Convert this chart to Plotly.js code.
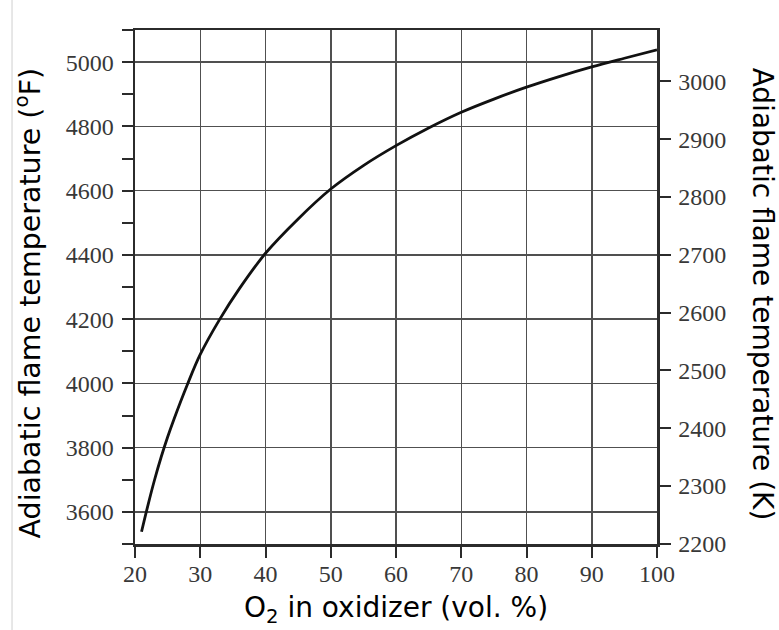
<!DOCTYPE html>
<html>
<head>
<meta charset="utf-8">
<script src="https://cdn.plot.ly/plotly-3.0.1.min.js"></script>
<style>html,body{margin:0;padding:0;background:#fff;}#chart{width:779px;height:630px;}</style>
</head>
<body>
<div id="chart"></div>
<script>
// O2 in oxidizer (vol. %)
const o2Percent = [21, 22, 23, 24, 25, 26, 28, 30, 33, 36, 40, 45, 50, 55, 60, 65, 70, 75, 80, 85, 90, 95, 100];
// Adiabatic flame temperature (°F)
const flameTempF = [3538, 3622, 3700, 3770, 3833, 3890, 3995, 4090, 4200, 4295, 4405, 4512, 4605, 4678, 4740, 4795, 4844, 4885, 4922, 4955, 4985, 5012, 5038];

const xTicks = [20, 30, 40, 50, 60, 70, 80, 90, 100];
const leftRange = [3500, 5100];
// Kelvin equivalent of the Fahrenheit axis limits
const rightRange = leftRange.map(f => (f - 32) / 1.8 + 273.15);

const tickFont = {family: '"Liberation Serif", serif', size: 24, color: '#383838'};
const titleFont = {family: '"DejaVu Sans", sans-serif', size: 28, color: '#000'};

const trace = {
  x: o2Percent, y: flameTempF, type: 'scatter', mode: 'lines',
  line: {color: '#111', width: 2.8, shape: 'spline', smoothing: 1},
  hoverinfo: 'skip', showlegend: false
};
const dummy = {x: [20], y: [2500], yaxis: 'y2', type: 'scatter', mode: 'markers',
  marker: {opacity: 0}, hoverinfo: 'skip', showlegend: false};

const layout = {
  width: 779, height: 630,
  margin: {l: 135, r: 122, t: 30, b: 86},
  paper_bgcolor: '#fff', plot_bgcolor: '#fff',
  xaxis: {
    range: [20, 100], tickvals: xTicks, ticks: 'outside', ticklen: 11, tickwidth: 2, tickcolor: '#2b2b2b',
    showline: true, linecolor: '#2b2b2b', linewidth: 2.5, mirror: true,
    showgrid: true, gridcolor: '#505050', gridwidth: 1.5, zeroline: false,
    tickfont: tickFont, ticklabelstandoff: -4
  },
  yaxis: {
    range: leftRange, dtick: 200, tick0: 0, ticks: 'outside', ticklen: 11, tickwidth: 2, tickcolor: '#2b2b2b',
    minor: {dtick: 100, tick0: 0, ticks: 'outside', ticklen: 11, tickwidth: 2, tickcolor: '#2b2b2b', showgrid: false},
    showline: true, linecolor: '#2b2b2b', linewidth: 2.5, mirror: true,
    showgrid: true, gridcolor: '#505050', gridwidth: 1.5, zeroline: false,
    tickfont: tickFont, ticklabelstandoff: 3
  },
  yaxis2: {
    overlaying: 'y', side: 'right', range: rightRange, dtick: 100, tick0: 0,
    ticks: 'outside', ticklen: 11, tickwidth: 2, tickcolor: '#2b2b2b',
    showline: true, linecolor: '#2b2b2b', linewidth: 2.5,
    showgrid: false, zeroline: false, tickfont: tickFont, ticklabelstandoff: 3
  },
  annotations: [
    {text: 'O<sub>2</sub> in oxidizer (vol. %)', xref: 'paper', yref: 'paper', x: 0.5, y: 0, yshift: -65,
     xanchor: 'center', yanchor: 'middle', showarrow: false, font: titleFont},
    {text: 'Adiabatic flame temperature (<sup>o</sup>F)', xref: 'paper', yref: 'paper', x: 0, xshift: -107, y: 0.468,
     xanchor: 'center', yanchor: 'middle', textangle: -90, showarrow: false,
     font: {family: titleFont.family, size: 28.5, color: '#000'}},
    {text: 'Adiabatic flame temperature (K)', xref: 'paper', yref: 'paper', x: 1, xshift: 105, y: 0.487,
     xanchor: 'center', yanchor: 'middle', textangle: 90, showarrow: false, font: titleFont}
  ],
  shapes: [
    {type: 'line', xref: 'paper', yref: 'paper', x0: -0.2356, x1: -0.2356, y0: -0.168, y1: 1.06,
     line: {color: '#cfcfcf', width: 1}}
  ]
};

Plotly.newPlot('chart', [trace, dummy], layout, {displayModeBar: false, staticPlot: true});
</script>
</body>
</html>
